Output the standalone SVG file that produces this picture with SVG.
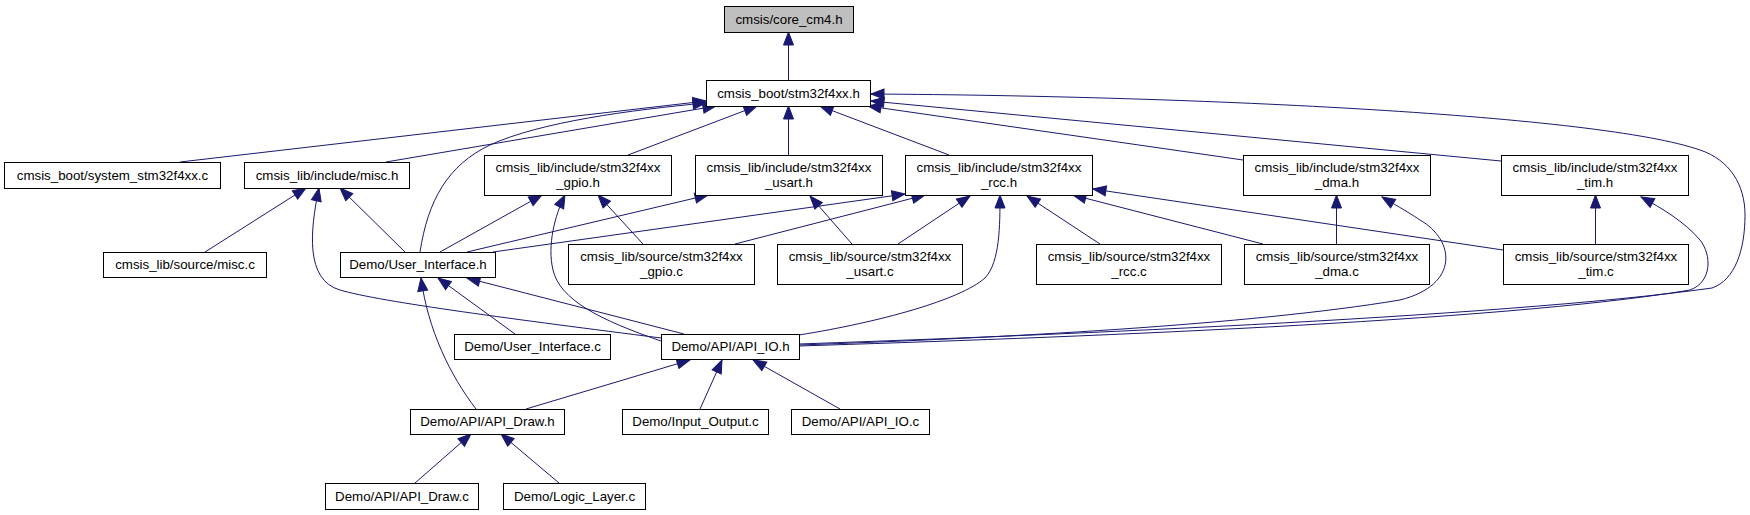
<svg xmlns="http://www.w3.org/2000/svg" width="1750" height="515" viewBox="0 0 1750 515">
<style>
.n rect{fill:#ffffff;stroke:#000000;stroke-width:1}
.n.root rect{fill:#bfbfbf}
.n text{font-family:"Liberation Sans",Arial,sans-serif;font-size:13.3px;fill:#000000;text-anchor:middle}
#edges path{fill:none;stroke:#191970;stroke-width:1;marker-end:url(#ah)}
</style>
<defs>
<marker id="ah" markerWidth="14" markerHeight="11" refX="13" refY="5.5" orient="auto" markerUnits="userSpaceOnUse" overflow="visible">
<path d="M0,0.5 L13,5.5 L0,10.5 Z" fill="#191970" stroke="#191970" stroke-width="1"/>
</marker>
</defs>
<rect width="1750" height="515" fill="#ffffff"/>
<g id="edges">
<path d="M788.5,80 L788.5,32"/>
<path d="M180,162 L706,101"/>
<path d="M386,162 L716,106"/>
<path d="M420,252 C428,200 448,165 490,145 C540,122 630,110 706,103"/>
<path d="M628,155 L757,106"/>
<path d="M788.5,155 L788.5,106"/>
<path d="M949,155 L820,106"/>
<path d="M1243,160 L868,106"/>
<path d="M1501,161 L871,101"/>
<path d="M799,344 C1000,337 1500,318 1712,288 C1735,280 1745,250 1745,215 C1745,185 1730,160 1700,150 C1600,115 1200,96 871,94"/>
<path d="M205,252 L306,188"/>
<path d="M661,338 C520,320 380,302 340,290 C305,280 310,230 319,188"/>
<path d="M405,252 L340,188"/>
<path d="M440,252 L542,195"/>
<path d="M643,244 L598,195"/>
<path d="M661,341 C600,320 560,300 553,270 C547,245 555,215 565,195"/>
<path d="M467,252 L708,195"/>
<path d="M852,244 L810,196"/>
<path d="M493,252 L905,194"/>
<path d="M735,244 L925,195"/>
<path d="M898,244 L970,196"/>
<path d="M799,335 C880,322 960,300 985,278 C1000,262 1000,225 1000,195"/>
<path d="M1100,244 L1027,196"/>
<path d="M1263,244 L1073,195"/>
<path d="M1503,250 L1093,189"/>
<path d="M1336.5,244 L1336.5,195"/>
<path d="M799,345 C1000,338 1250,325 1400,300 C1460,285 1455,240 1420,220 C1405,210 1392,203 1382,197"/>
<path d="M1595.5,244 L1595.5,195"/>
<path d="M799,346 C1050,338 1500,322 1690,290 C1712,282 1712,255 1700,240 C1685,222 1660,207 1641,197"/>
<path d="M515,334 L438,278"/>
<path d="M684,334 L467,278"/>
<path d="M476,409 C450,375 428,330 421,278"/>
<path d="M526,409 L690,360"/>
<path d="M700,409 L722,360"/>
<path d="M840,409 L753,360"/>
<path d="M415,483 L471,434"/>
<path d="M559,483 L501,434"/>
</g>
<g id="core_cm4_h" class="n root"><rect x="724.5" y="6.5" width="129" height="26"/><text x="789" y="23.5">cmsis/core_cm4.h</text></g>
<g id="stm32f4xx_h" class="n"><rect x="706.5" y="80.5" width="164" height="26"/><text x="788.5" y="97.5">cmsis_boot/stm32f4xx.h</text></g>
<g id="system_c" class="n"><rect x="4.5" y="162.5" width="216" height="26"/><text x="112.5" y="179.5">cmsis_boot/system_stm32f4xx.c</text></g>
<g id="misc_h" class="n"><rect x="244.5" y="162.5" width="165" height="26"/><text x="327" y="179.5">cmsis_lib/include/misc.h</text></g>
<g id="gpio_h" class="n"><rect x="484.5" y="155.5" width="187" height="40"/><text x="578" y="171.5">cmsis_lib/include/stm32f4xx</text><text x="578" y="186.5">_gpio.h</text></g>
<g id="usart_h" class="n"><rect x="695.5" y="155.5" width="187" height="40"/><text x="789" y="171.5">cmsis_lib/include/stm32f4xx</text><text x="789" y="186.5">_usart.h</text></g>
<g id="rcc_h" class="n"><rect x="905.5" y="155.5" width="187" height="40"/><text x="999" y="171.5">cmsis_lib/include/stm32f4xx</text><text x="999" y="186.5">_rcc.h</text></g>
<g id="dma_h" class="n"><rect x="1243.5" y="155.5" width="187" height="40"/><text x="1337" y="171.5">cmsis_lib/include/stm32f4xx</text><text x="1337" y="186.5">_dma.h</text></g>
<g id="tim_h" class="n"><rect x="1501.5" y="155.5" width="187" height="40"/><text x="1595" y="171.5">cmsis_lib/include/stm32f4xx</text><text x="1595" y="186.5">_tim.h</text></g>
<g id="misc_c" class="n"><rect x="103.5" y="252.5" width="163" height="25"/><text x="185" y="269">cmsis_lib/source/misc.c</text></g>
<g id="ui_h" class="n"><rect x="340.5" y="252.5" width="155" height="25"/><text x="418" y="269">Demo/User_Interface.h</text></g>
<g id="gpio_c" class="n"><rect x="568.5" y="244.5" width="186" height="40"/><text x="661.5" y="260.5">cmsis_lib/source/stm32f4xx</text><text x="661.5" y="275.5">_gpio.c</text></g>
<g id="usart_c" class="n"><rect x="777.5" y="244.5" width="185" height="40"/><text x="870" y="260.5">cmsis_lib/source/stm32f4xx</text><text x="870" y="275.5">_usart.c</text></g>
<g id="rcc_c" class="n"><rect x="1036.5" y="244.5" width="185" height="40"/><text x="1129" y="260.5">cmsis_lib/source/stm32f4xx</text><text x="1129" y="275.5">_rcc.c</text></g>
<g id="dma_c" class="n"><rect x="1244.5" y="244.5" width="185" height="40"/><text x="1337" y="260.5">cmsis_lib/source/stm32f4xx</text><text x="1337" y="275.5">_dma.c</text></g>
<g id="tim_c" class="n"><rect x="1503.5" y="244.5" width="185" height="40"/><text x="1596" y="260.5">cmsis_lib/source/stm32f4xx</text><text x="1596" y="275.5">_tim.c</text></g>
<g id="ui_c" class="n"><rect x="454.5" y="334.5" width="156" height="25"/><text x="532.5" y="351">Demo/User_Interface.c</text></g>
<g id="api_io_h" class="n"><rect x="661.5" y="334.5" width="138" height="25"/><text x="730.5" y="351">Demo/API/API_IO.h</text></g>
<g id="api_draw_h" class="n"><rect x="410.5" y="409.5" width="154" height="25"/><text x="487.5" y="426">Demo/API/API_Draw.h</text></g>
<g id="input_output_c" class="n"><rect x="622.5" y="409.5" width="146" height="25"/><text x="695.5" y="426">Demo/Input_Output.c</text></g>
<g id="api_io_c" class="n"><rect x="791.5" y="409.5" width="138" height="25"/><text x="860.5" y="426">Demo/API/API_IO.c</text></g>
<g id="api_draw_c" class="n"><rect x="325.5" y="483.5" width="153" height="26"/><text x="402" y="500.5">Demo/API/API_Draw.c</text></g>
<g id="logic_layer_c" class="n"><rect x="503.5" y="483.5" width="142" height="26"/><text x="574.5" y="500.5">Demo/Logic_Layer.c</text></g>
</svg>
